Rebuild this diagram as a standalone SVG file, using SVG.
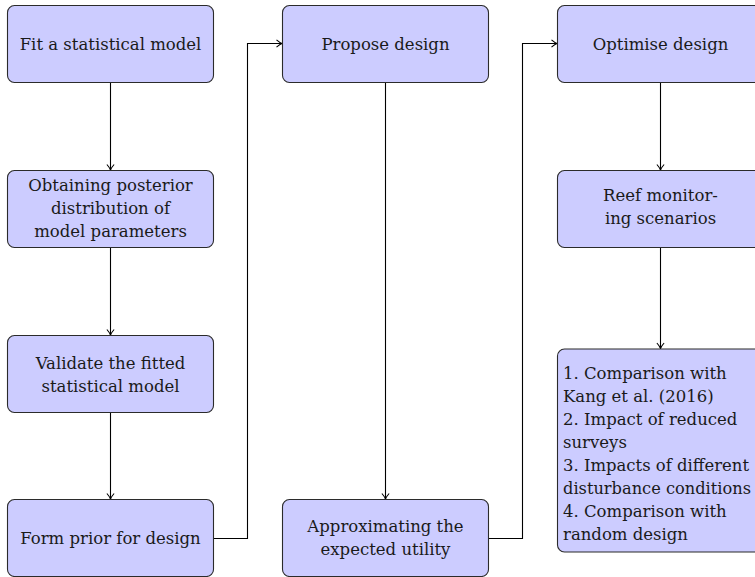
<svg xmlns="http://www.w3.org/2000/svg" width="755" height="577" viewBox="0 0 755 577">
<style>
.box{fill:#ccccff;stroke:#2b2b2b;stroke-width:1.1}
.t{font-family:"DejaVu Serif","Liberation Serif",serif;font-size:16.5px;fill:#1a1a1a}
.c{text-anchor:middle}
.conn{fill:none;stroke:#000;stroke-width:1.1}
</style>
<defs>
<marker id="arr" markerUnits="userSpaceOnUse" markerWidth="12" markerHeight="12" viewBox="-8 -6 12 12" refX="0" refY="0" orient="auto">
<path d="M-5.5,-3.6 Q-2,-0.6 0,0 Q-2,0.6 -5.5,3.6" fill="none" stroke="#000" stroke-width="1.1"/>
</marker>
</defs>
<rect width="755" height="577" fill="#fff"/>
<g id="connectors">
<path class="conn" d="M110.5,82.5 V170" marker-end="url(#arr)"/>
<path class="conn" d="M110.5,247.5 V335" marker-end="url(#arr)"/>
<path class="conn" d="M110.5,412.5 V499" marker-end="url(#arr)"/>
<path class="conn" d="M213.5,538.5 H247.5 V43.5 H282" marker-end="url(#arr)"/>
<path class="conn" d="M385.5,82.5 V499" marker-end="url(#arr)"/>
<path class="conn" d="M488.5,538.5 H522.5 V43.5 H557" marker-end="url(#arr)"/>
<path class="conn" d="M660.5,82.5 V170" marker-end="url(#arr)"/>
<path class="conn" d="M660.5,247.5 V348.5" marker-end="url(#arr)"/>
</g>
<g id="fit">
<rect class="box" x="7.5" y="5.5" width="206" height="77" rx="7"/>
<text class="t c" x="110.5" y="50">Fit a statistical model</text>
</g>
<g id="posterior">
<rect class="box" x="7.5" y="170.5" width="206" height="77" rx="7"/>
<text class="t c" x="110.5" y="191">Obtaining posterior</text>
<text class="t c" x="110.5" y="214">distribution of</text>
<text class="t c" x="110.5" y="237">model parameters</text>
</g>
<g id="validate">
<rect class="box" x="7.5" y="335.5" width="206" height="77" rx="7"/>
<text class="t c" x="110.5" y="369">Validate the fitted</text>
<text class="t c" x="110.5" y="392">statistical model</text>
</g>
<g id="prior">
<rect class="box" x="7.5" y="499.5" width="206" height="77" rx="7"/>
<text class="t c" x="110.5" y="544">Form prior for design</text>
</g>
<g id="propose">
<rect class="box" x="282.5" y="5.5" width="206" height="77" rx="7"/>
<text class="t c" x="385.5" y="50">Propose design</text>
</g>
<g id="approx">
<rect class="box" x="282.5" y="499.5" width="206" height="77" rx="7"/>
<text class="t c" x="385.5" y="532">Approximating the</text>
<text class="t c" x="385.5" y="555">expected utility</text>
</g>
<g id="optimise">
<rect class="box" x="557.5" y="5.5" width="206" height="77" rx="7"/>
<text class="t c" x="660.5" y="50">Optimise design</text>
</g>
<g id="reef">
<rect class="box" x="557.5" y="170.5" width="206" height="77" rx="7"/>
<text class="t c" x="660.5" y="201">Reef monitor-</text>
<text class="t c" x="660.5" y="224">ing scenarios</text>
</g>
<g id="scenarios">
<rect class="box" x="557.5" y="349" width="206" height="203" rx="7"/>
<text class="t" x="563" y="379">1. Comparison with</text>
<text class="t" x="563" y="402">Kang et al. (2016)</text>
<text class="t" x="563" y="425">2. Impact of reduced</text>
<text class="t" x="563" y="448">surveys</text>
<text class="t" x="563" y="471" textLength="186" lengthAdjust="spacingAndGlyphs">3. Impacts of different</text>
<text class="t" x="563" y="494" textLength="188" lengthAdjust="spacingAndGlyphs">disturbance conditions</text>
<text class="t" x="563" y="517">4. Comparison with</text>
<text class="t" x="563" y="540">random design</text>
</g>
</svg>
